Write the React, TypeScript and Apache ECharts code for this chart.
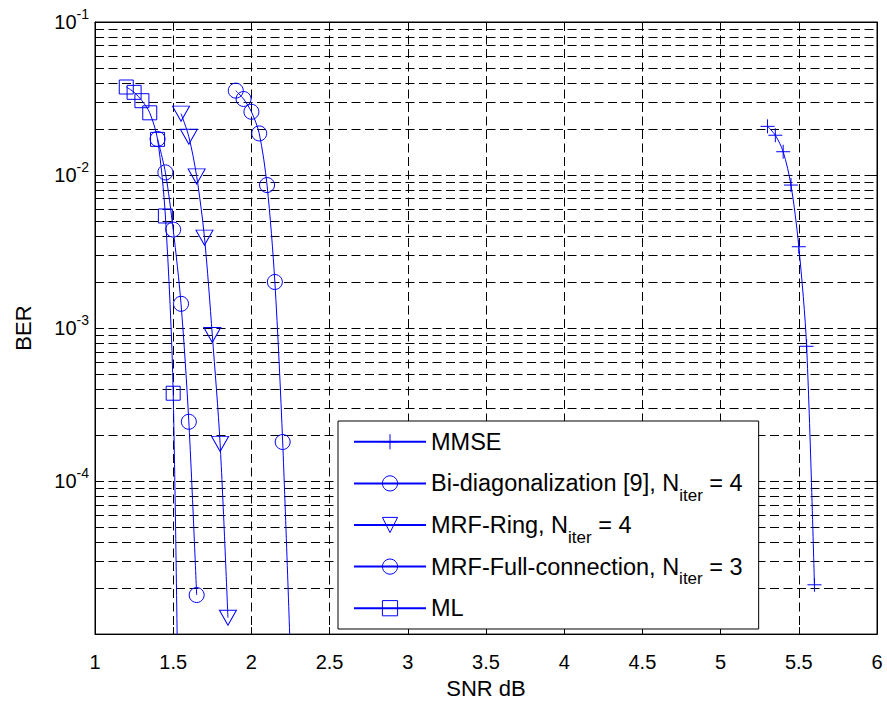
import React, { useEffect, useRef } from "react";
import * as echarts from "echarts";

const FONT = "'Liberation Sans', Arial, Helvetica, sans-serif";
const BLUE = "#0000ff";

// SNR (dB) and BER values
const snrMMSE = [5.3, 5.35, 5.4, 5.45, 5.5, 5.55, 5.6];
const berMMSE = [0.0208, 0.0182, 0.0142, 0.0086, 0.0034, 7.6e-4, 2.1e-5];

const snrBiDiag = [1.9, 1.95, 2.0, 2.05, 2.1, 2.15, 2.2, 2.25];
const berBiDiag = [0.0356, 0.0314, 0.0259, 0.0187, 0.0086, 0.002, 1.8e-4, 7e-6];

const snrRing = [1.55, 1.6, 1.65, 1.7, 1.75, 1.8, 1.85];
const berRing = [0.0252, 0.0178, 0.0098, 0.0039, 9.0e-4, 1.75e-4, 1.28e-5];

const snrFull = [1.4, 1.45, 1.5, 1.55, 1.6, 1.65];
const berFull = [0.0172, 0.0104, 0.0044, 0.00144, 2.44e-4, 1.8e-5];

const snrML = [1.2, 1.25, 1.3, 1.35, 1.4, 1.45, 1.5, 1.55];
const berML = [0.0376, 0.0347, 0.0306, 0.0255, 0.0171, 0.0054, 3.75e-4, 9e-8];

const seriesNames = [
  "MMSE",
  "Bi-diagonalization [9], N_iter = 4",
  "MRF-Ring, N_iter = 4",
  "MRF-Full-connection, N_iter = 3",
  "ML",
];

// axis ticks
const xTicks = [1, 1.5, 2, 2.5, 3, 3.5, 4, 4.5, 5, 5.5, 6];
const yDecades = [-5, -4, -3, -2, -1];
const minorMultipliers = [2, 3, 4, 5, 6, 7, 8, 9];

const minorGridValues: number[] = [];
yDecades.slice(0, 4).forEach((e) =>
  minorMultipliers.forEach((m) => minorGridValues.push(m * Math.pow(10, e)))
);

const zip = (xs: number[], ys: number[]) => xs.map((x, i) => [x, ys[i]]);

const PLUS = "path://M7,0 L7,14 M0,7 L14,7";
const TRI_DOWN = "path://M0,0 L16,0 L8,14 Z";

function makeSeries(name: string, data: number[][], symbol: string, size: any) {
  return {
    name,
    type: "line",
    data,
    symbol,
    symbolSize: size,
    smooth: 0.3,
    clip: true,
    z: 3,
    lineStyle: { color: BLUE, width: 1 },
    itemStyle: { color: "rgba(0,0,0,0)", borderColor: BLUE, borderWidth: 1 },
    emphasis: { disabled: true },
  };
}

export default function App() {
  const ref = useRef<HTMLDivElement>(null);
  useEffect(() => {
    const chart = echarts.init(ref.current!, null, { renderer: "svg" });
    const dash = [9, 4.5];
    const option: any = {
      animation: false,
      backgroundColor: "#fff",
      textStyle: { fontFamily: FONT },
      grid: {
        left: 95,
        right: 10,
        top: 22,
        bottom: 66,
        show: true,
        borderColor: "#000",
        borderWidth: 1,
        backgroundColor: "#fff",
      },
      xAxis: [
        {
          type: "value",
          min: xTicks[0],
          max: xTicks[xTicks.length - 1],
          interval: 0.5,
          name: "SNR dB",
          nameLocation: "middle",
          nameGap: 42,
          nameTextStyle: { fontSize: 22, color: "#000", fontFamily: FONT },
          axisLine: { show: true, onZero: false, lineStyle: { color: "#000", width: 1 } },
          axisTick: { show: true, inside: true, length: 7, lineStyle: { color: "#000" } },
          axisLabel: { fontSize: 20, color: "#000", fontFamily: FONT, margin: 18 },
          splitLine: { show: true, lineStyle: { color: "#000", type: dash, width: 1 } },
        },
        {
          type: "value",
          position: "top",
          min: xTicks[0],
          max: xTicks[xTicks.length - 1],
          interval: 0.5,
          axisLine: { show: true, lineStyle: { color: "#000" } },
          axisTick: { show: true, inside: true, length: 7, lineStyle: { color: "#000" } },
          axisLabel: { show: false },
          splitLine: { show: false },
        },
      ],
      yAxis: [
        {
          type: "log",
          logBase: 10,
          min: Math.pow(10, yDecades[0]),
          max: Math.pow(10, yDecades[yDecades.length - 1]),
          name: "BER",
          nameLocation: "middle",
          nameGap: 61,
          nameTextStyle: { fontSize: 22, color: "#000", fontFamily: FONT },
          axisLine: { show: true, lineStyle: { color: "#000", width: 1 } },
          axisTick: { show: true, inside: true, length: 7, lineStyle: { color: "#000" } },
          axisLabel: {
            margin: 6,
            color: "#000",
            formatter: (v: number) => {
              const e = Math.round(Math.log10(v));
              if (e === yDecades[0]) return "";
              return "{b|10}{s|" + e + "}";
            },
            rich: {
              b: { fontSize: 20, fontFamily: FONT, color: "#000" },
              s: { fontSize: 14, fontFamily: FONT, color: "#000", padding: [0, 0, 16, 0] },
            },
          },
          splitLine: { show: true, lineStyle: { color: "#000", type: dash, width: 1 } },
        },
        {
          type: "log",
          logBase: 10,
          position: "right",
          min: Math.pow(10, yDecades[0]),
          max: Math.pow(10, yDecades[yDecades.length - 1]),
          axisLine: { show: true, lineStyle: { color: "#000" } },
          axisTick: { show: true, inside: true, length: 7, lineStyle: { color: "#000" } },
          axisLabel: { show: false },
          splitLine: { show: false },
        },
      ],
      legend: {
        orient: "vertical",
        left: 338,
        top: 421,
        z: 10,
        itemWidth: 72,
        itemHeight: 19,
        itemGap: 0,
        padding: [0, 16, 0, 15],
        backgroundColor: "#fff",
        borderColor: "#000",
        borderWidth: 1,
        borderRadius: 0,
        selectedMode: false,
        data: seriesNames,
        itemStyle: { borderWidth: 1 },
        textStyle: {
          fontSize: 23.5,
          color: "#000",
          fontFamily: FONT,
          lineHeight: 41.6,
          rich: {
            sub: {
              fontSize: 17,
              lineHeight: 17,
              fontFamily: FONT,
              color: "#000",
              padding: [24, 0, 0, 0],
            },
          },
        },
        formatter: (name: string) => name.replace("_iter", "{sub|iter}"),
      },
      series: [
        {
          name: "grid-minor",
          type: "line",
          data: [],
          z: 1,
          silent: true,
          markLine: {
            z: 1,
            silent: true,
            precision: 12,
            symbol: ["none", "none"],
            label: { show: false },
            lineStyle: { color: "#000", type: dash, width: 1 },
            emphasis: { disabled: true },
            data: minorGridValues.map((v) => ({ yAxis: v })),
          },
        },
        makeSeries(seriesNames[0], zip(snrMMSE, berMMSE), PLUS, 14),
        makeSeries(seriesNames[1], zip(snrBiDiag, berBiDiag), "circle", 15),
        makeSeries(seriesNames[2], zip(snrRing, berRing), TRI_DOWN, [17, 15]),
        makeSeries(seriesNames[3], zip(snrFull, berFull), "circle", 15),
        makeSeries(seriesNames[4], zip(snrML, berML), "rect", 14),
      ],
    };
    chart.setOption(option);
    return () => chart.dispose();
  }, []);
  return (
    <div
      ref={ref}
      style={{ position: "absolute", left: 0, top: 0, width: 887, height: 704, background: "#fff" }}
    />
  );
}
